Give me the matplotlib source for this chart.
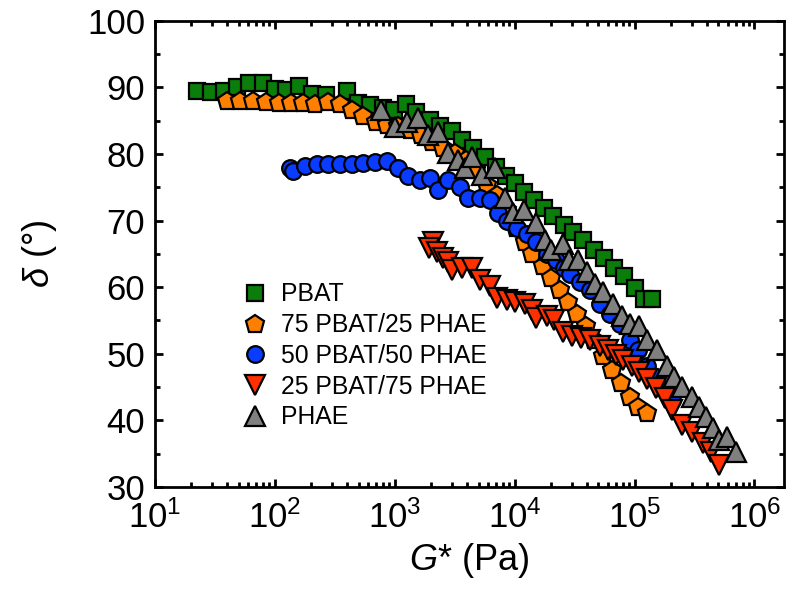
import numpy as np
import matplotlib.pyplot as plt
from matplotlib.ticker import MultipleLocator, LogLocator, NullFormatter

plt.rcParams['font.family'] = ['Liberation Sans', 'DejaVu Sans']
plt.rcParams['mathtext.fontset'] = 'custom'
plt.rcParams['mathtext.rm'] = 'Liberation Sans'
plt.rcParams['mathtext.it'] = 'Liberation Sans:italic'

# complex modulus G* (Pa) and phase angle delta (deg) for each blend
g_pbat = [22.4, 29.3, 37.6, 48.2, 60.7, 79.4, 100, 123, 158, 205, 265, 400, 490, 620,
          800, 980, 1240, 1520, 1960, 2370, 2990, 3620, 4470, 5620, 6950, 8410, 10000,
          11900, 14400, 17500, 21100, 25600, 30400, 36900, 45500, 55200, 66800, 81000,
          100000, 121000, 141000]
d_pbat = [89.5, 89.3, 89.5, 90.1, 90.7, 90.6, 89.8, 89.6, 90.2, 89.0, 88.9, 89.5, 87.7,
          87.4, 86.9, 86.6, 87.5, 86.3, 85.1, 84.2, 83.5, 82.1, 80.9, 79.6, 78.1, 76.7,
          75.7, 74.3, 73.1, 71.9, 70.7, 69.4, 68.2, 67.0, 65.6, 64.3, 62.9, 61.6, 59.8,
          58.2, 58.2]

g_75_25 = [39.8, 51.1, 65.6, 84.1, 108, 136, 171, 215, 277, 348, 438, 541, 695, 857,
           1060, 1330, 1650, 2030, 2510, 3160, 3900, 4730, 5840, 7080, 8580, 10200,
           12100, 14100, 17100, 20300, 23700, 27700, 32900, 39100, 45500, 54100, 64300,
           76400, 90800, 106000, 126000]
d_75_25 = [88.0, 88.0, 88.0, 87.8, 87.7, 87.7, 87.7, 87.5, 87.8, 87.5, 86.6, 85.7, 84.8,
           84.4, 84.2, 83.6, 82.9, 81.8, 80.9, 80.2, 79.1, 77.6, 75.4, 73.9, 71.6, 68.9,
           66.7, 64.9, 63.1, 61.4, 59.6, 57.7, 56.0, 54.2, 52.1, 49.7, 47.6, 45.6, 43.5,
           42.0, 41.1]

g_50_50 = [133, 141, 178, 224, 277, 348, 438, 541, 681, 857, 1060, 1280, 1620, 1960,
           2280, 2770, 3480, 4060, 5110, 6190, 7220, 8580, 10400, 12600, 15200, 18500,
           22000, 25600, 28700, 34800, 42200, 51100, 61900, 75000, 90800, 106000, 128000,
           152000, 178000, 207000]
d_50_50 = [77.9, 77.5, 78.2, 78.5, 78.5, 78.5, 78.5, 78.7, 78.8, 79.0, 77.9, 76.7, 76.1,
           76.4, 74.6, 76.1, 75.1, 73.4, 73.4, 73.1, 71.2, 70.0, 68.9, 67.9, 66.7, 64.9,
           64.1, 62.9, 61.9, 60.8, 59.6, 57.5, 56.0, 54.4, 52.1, 50.6, 48.2, 46.5, 44.6,
           43.1]

g_25_75 = [2070, 1920, 2240, 2510, 2770, 2990, 3620, 4380, 5110, 6190, 7080, 8580,
           10000, 12100, 14100, 15200, 18500, 21500, 25100, 29900, 35500, 42200, 51100,
           59600, 69500, 80900, 94400, 110000, 128000, 150000, 178000, 207000, 251000,
           299000, 369000, 438000, 511000]
d_25_75 = [66.7, 65.9, 65.2, 64.4, 63.7, 62.6, 62.9, 62.9, 61.1, 60.2, 58.4, 58.1, 57.7,
           57.4, 56.6, 55.4, 55.7, 55.1, 53.2, 52.7, 52.3, 52.0, 51.2, 50.6, 49.8, 49.1,
           48.2, 47.3, 46.2, 44.9, 43.4, 41.6, 39.3, 38.3, 36.6, 35.3, 33.3]

g_phae = [765, 1000, 1260, 1560, 1880, 2280, 2770, 3350, 3830, 4380, 5310, 6810, 8250,
          9620, 11900, 15200, 17800, 20300, 25100, 28200, 33500, 39800, 46400, 54100,
          65600, 77900, 90900, 110000, 126000, 153000, 185000, 215000, 251000, 299000,
          348000, 398000, 447000, 511000, 596000, 708000]
d_phae = [86.6, 84.1, 84.8, 85.4, 82.9, 83.3, 80.2, 79.1, 77.9, 79.6, 76.9, 77.9, 73.4,
          71.2, 71.6, 69.7, 67.1, 65.6, 66.4, 64.0, 64.1, 62.3, 60.4, 59.3, 57.4, 55.7,
          54.4, 54.1, 52.1, 50.6, 48.2, 46.5, 45.0, 43.5, 42.0, 40.5, 38.9, 37.1, 37.5,
          35.3]

series = [
    ('PBAT', g_pbat, d_pbat, 's', '#0a7d0a', 12),
    ('75 PBAT/25 PHAE', g_75_25, d_75_25, 'p', '#ff8000', 13.5),
    ('50 PBAT/50 PHAE', g_50_50, d_50_50, 'o', '#0a3cff', 12),
    ('25 PBAT/75 PHAE', g_25_75, d_25_75, 'v', '#ff3000', 14),
    ('PHAE', g_phae, d_phae, '^', '#808080', 14),
]

fig = plt.figure(figsize=(7.86, 5.93), dpi=100)
ax = fig.add_axes([0.197, 0.179, 0.801, 0.786])

for name, g, d, mk, col, ms in series:
    ax.plot(g, d, linestyle='none', marker=mk, markersize=ms, markerfacecolor=col,
            markeredgecolor='black', markeredgewidth=1.6, label=name)

ax.set_xscale('log')
ax.set_xlim(10, 10 ** 6.25)
ax.set_ylim(30, 100)
ax.yaxis.set_major_locator(MultipleLocator(10))
ax.yaxis.set_minor_locator(MultipleLocator(5))
ax.xaxis.set_major_locator(LogLocator(base=10, numticks=10))
ax.xaxis.set_minor_locator(LogLocator(base=10, subs=np.arange(2, 10), numticks=20))
ax.xaxis.set_minor_formatter(NullFormatter())

for side in ax.spines.values():
    side.set_linewidth(2)
ax.tick_params(which='both', direction='in', top=True, right=True, width=2)
ax.tick_params(which='major', length=6, labelsize=25)
ax.tick_params(which='minor', length=3.5)
ax.tick_params(axis='x', which='major', pad=10)
ax.tick_params(axis='y', which='major', pad=7)

ax.set_xlabel('$G$* (Pa)', fontsize=26, labelpad=4)
ax.set_ylabel('$\\delta$ (°)', fontsize=26, labelpad=20)

ax.legend(loc='upper left', bbox_to_anchor=(0.11, 0.465), frameon=False, fontsize=17.8,
          labelspacing=0.27, handletextpad=0.3, handlelength=1.5, borderpad=0)

fig.savefig('out.png', dpi=100)
